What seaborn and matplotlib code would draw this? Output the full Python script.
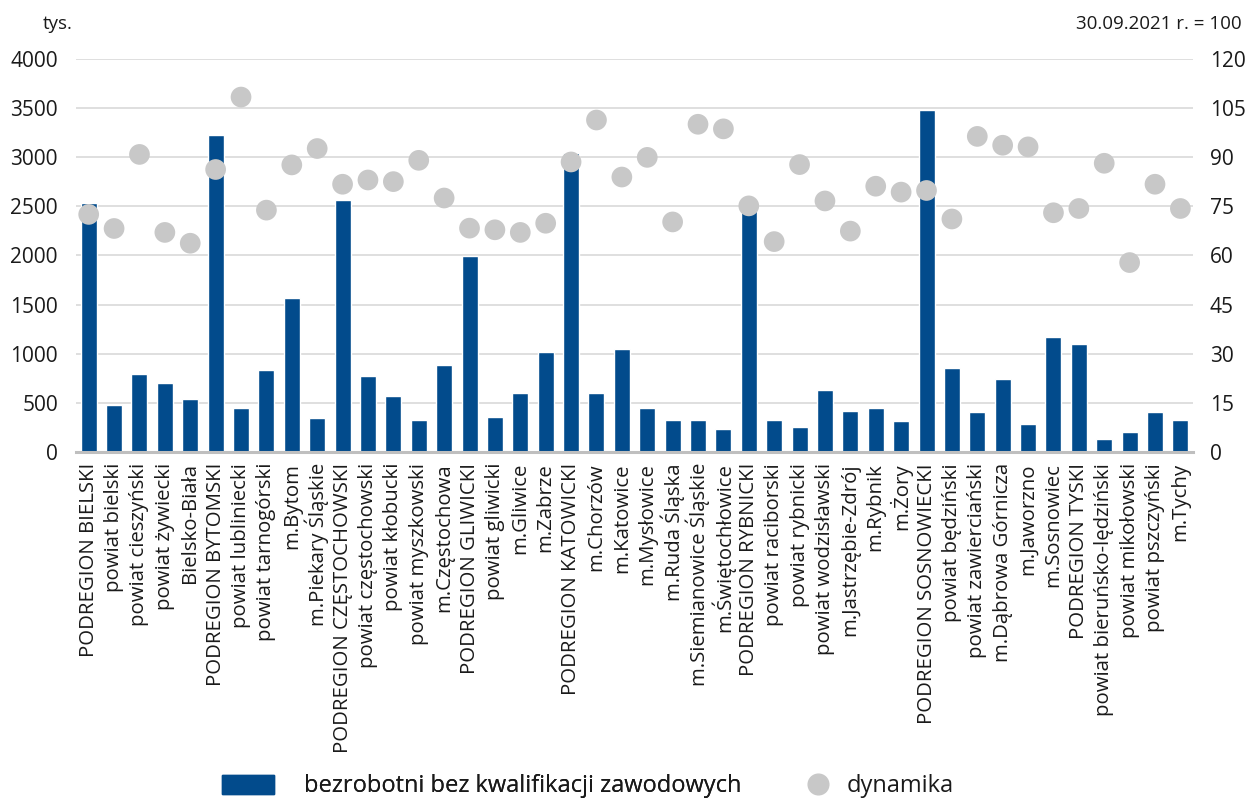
import matplotlib
matplotlib.use('Agg')
import matplotlib.pyplot as plt
import numpy as np
import pandas as pd
import seaborn as sns
from matplotlib.patches import Patch
from matplotlib.lines import Line2D

# Data
regions = [
    'PODREGION BIELSKI', 'powiat bielski', 'powiat cieszyński', 'powiat żywiecki',
    'Bielsko-Biała', 'PODREGION BYTOMSKI', 'powiat lubliniecki', 'powiat tarnogórski',
    'm.Bytom', 'm.Piekary Śląskie', 'PODREGION CZĘSTOCHOWSKI', 'powiat częstochowski',
    'powiat kłobucki', 'powiat myszkowski', 'm.Częstochowa', 'PODREGION GLIWICKI',
    'powiat gliwicki', 'm.Gliwice', 'm.Zabrze', 'PODREGION KATOWICKI', 'm.Chorzów',
    'm.Katowice', 'm.Mysłowice', 'm.Ruda Śląska', 'm.Siemianowice Śląskie',
    'm.Świętochłowice', 'PODREGION RYBNICKI', 'powiat raciborski', 'powiat rybnicki',
    'powiat wodzisławski', 'm.Jastrzębie-Zdrój', 'm.Rybnik', 'm.Żory',
    'PODREGION SOSNOWIECKI', 'powiat będziński', 'powiat zawierciański',
    'm.Dąbrowa Górnicza', 'm.Jaworzno', 'm.Sosnowiec', 'PODREGION TYSKI',
    'powiat bieruńsko-lędziński', 'powiat mikołowski', 'powiat pszczyński', 'm.Tychy',
]
unemployed = [
    2530, 480, 795, 705, 540, 3225, 450, 835, 1570, 350, 2565, 775, 570, 330, 885,
    1995, 355, 600, 1020, 3040, 600, 1050, 450, 330, 330, 235, 2480, 330, 255, 630,
    420, 450, 315, 3480, 855, 405, 745, 285, 1170, 1100, 135, 205, 405, 330,
]
dynamics = [
    72.5, 68.2, 90.8, 67.0, 63.7, 86.2, 108.3, 73.8, 87.6, 92.6, 81.7, 83.0, 82.5,
    89.0, 77.5, 68.3, 67.8, 67.0, 69.8, 88.5, 101.3, 83.9, 89.9, 70.2, 100.0, 98.6,
    75.1, 64.2, 87.7, 76.6, 67.4, 81.1, 79.3, 79.8, 71.1, 96.3, 93.6, 93.1, 73.0,
    74.3, 88.1, 57.8, 81.7, 74.3,
]
left_ticks = [0, 500, 1000, 1500, 2000, 2500, 3000, 3500, 4000]
right_ticks = [0, 15, 30, 45, 60, 75, 90, 105, 120]

BAR = '#024B8C'
DOT = '#C8C8C8'
TXT = '#1a1a1a'

sns.set_theme(style='white')
plt.rcParams['font.family'] = ['Open Sans', 'DejaVu Sans']

df = pd.DataFrame({'region': regions, 'value': unemployed, 'dyn': dynamics})
df['pos'] = range(len(df))

fig = plt.figure(figsize=(12.48, 7.99), dpi=100)
ax = fig.add_axes([0.0609, 0.4343, 0.8951, 0.4922])

sns.barplot(data=df, x='region', y='value', color=BAR, width=0.63,
            saturation=1, ax=ax, zorder=2)
ax.set_xlim(-0.5, len(df) - 0.5)
ax.set_ylim(0, 4000)
ax.set_yticks(left_ticks)
ax.set_xlabel('')
ax.set_ylabel('')
ax.grid(axis='y', color='#D9D9D9', linewidth=1.2, zorder=0)
ax.set_axisbelow(True)
for s in ['top', 'right', 'left']:
    ax.spines[s].set_visible(False)
ax.spines['bottom'].set_color('#BFBFBF')
ax.spines['bottom'].set_linewidth(2.2)
ax.tick_params(axis='y', length=0, pad=13, labelsize=15, colors=TXT)
ax.tick_params(axis='x', length=0, pad=8, labelsize=14.7, colors=TXT)
plt.setp(ax.get_xticklabels(), rotation=90, ha='center', va='top')

ax2 = ax.twinx()
sns.scatterplot(data=df, x='pos', y='dyn', color=DOT, s=222, edgecolor='none',
                ax=ax2, zorder=3, legend=False)
ax2.set_ylim(0, 120)
ax2.set_yticks(right_ticks)
ax2.set_xlim(-0.5, len(df) - 0.5)
ax2.set_ylabel('')
ax2.set_xlabel('')
for s in ['top', 'right', 'left', 'bottom']:
    ax2.spines[s].set_visible(False)
ax2.tick_params(axis='y', length=0, pad=12, labelsize=15, colors=TXT)
ax2.grid(False)

fig.text(0.0465, 0.97, 'tys.', ha='center', va='center', fontsize=13.5, color=TXT)
fig.text(0.995, 0.97, '30.09.2021 r. = 100', ha='right', va='center',
         fontsize=13.5, color=TXT)

leg1 = fig.legend(handles=[Patch(color=BAR, label='bezrobotni bez kwalifikacji zawodowych')],
                  loc='center left', bbox_to_anchor=(222 / 1248, 12.5 / 799),
                  frameon=False, fontsize=17, handlelength=2.2, handleheight=0.89,
                  handletextpad=1.27, borderpad=0, borderaxespad=0)
for t in leg1.get_texts():
    t.set_color(TXT)
fig.add_artist(leg1)
leg2 = fig.legend(handles=[Line2D([], [], marker='o', linestyle='none', color=DOT,
                                  markersize=14.9, label='dynamika')],
                  loc='center left', bbox_to_anchor=(806 / 1248, 12.5 / 799),
                  frameon=False, fontsize=17, handlelength=1.0,
                  handletextpad=0.73, borderpad=0, borderaxespad=0)
for t in leg2.get_texts():
    t.set_color(TXT)

fig.savefig('out.png', dpi=100)
